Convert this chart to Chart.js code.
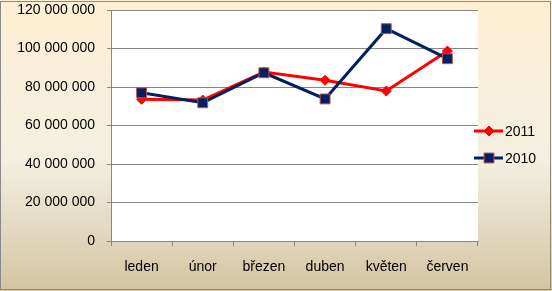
<!DOCTYPE html>
<html>
<head>
<meta charset="utf-8">
<script src="https://cdn.jsdelivr.net/npm/chart.js@4/dist/chart.umd.min.js"></script>
<style>
  html, body { margin: 0; padding: 0; background: #fff; }
  #wrap { width: 552px; height: 291px; }
</style>
</head>
<body>
<div id="wrap"><canvas id="graf" width="552" height="291"></canvas></div>
<script>
// data
const mesice = ['leden', 'únor', 'březen', 'duben', 'květen', 'červen'];
const rok2011 = [73600000, 73200000, 87800000, 83500000, 77900000, 98700000];
const rok2010 = [77000000, 71800000, 87400000, 73800000, 110300000, 94700000];
const osaMax = 120000000;
const osaKrok = 20000000;

const font = { family: 'Liberation Sans', size: 14 };
const sedaOsa = '#878787';

function formatCislo(v) {
  return String(v).replace(/\B(?=(\d{3})+(?!\d))/g, ' ');
}

// pozadi celeho grafu + bila plocha
const pozadi = {
  id: 'pozadi',
  beforeDraw(chart) {
    const ctx = chart.ctx;
    const a = chart.chartArea;
    ctx.save();
    let g = ctx.createLinearGradient(0, 0, 0, chart.height);
    g.addColorStop(0, '#FEEFD3');
    g.addColorStop(0.55, '#F3EFE1');
    g.addColorStop(1, '#D3C5A1');
    ctx.fillStyle = g;
    ctx.fillRect(0, 0, chart.width, chart.height);
    ctx.fillStyle = '#ffffff';
    ctx.fillRect(a.left, a.top, a.right - a.left, a.bottom - a.top);
    ctx.restore();
  },
  afterDraw(chart) {
    const ctx = chart.ctx;
    ctx.save();
    ctx.strokeStyle = '#8a8a8a';
    ctx.lineWidth = 1;
    ctx.strokeRect(0.5, 1.5, 550, 288);
    ctx.restore();
  }
};

// legenda vpravo (cara + znacka + text)
const legenda = {
  id: 'legenda',
  afterDraw(chart) {
    const ctx = chart.ctx;
    const poradi = [0, 1];
    const ys = [131, 158];
    ctx.save();
    poradi.forEach(function (i, k) {
      const ds = chart.data.datasets[i];
      const y = ys[k];
      ctx.strokeStyle = ds.borderColor;
      ctx.lineWidth = 3;
      ctx.beginPath();
      ctx.moveTo(474, y);
      ctx.lineTo(503, y);
      ctx.stroke();
      ctx.fillStyle = ds.pointBackgroundColor;
      ctx.strokeStyle = ds.pointBorderColor;
      ctx.lineWidth = 1;
      Chart.helpers.drawPoint(ctx, {
        pointStyle: ds.pointStyle,
        radius: ds.pointRadius,
        rotation: 0,
        borderWidth: 1
      }, 489, y);
      ctx.fillStyle = '#000';
      ctx.font = '14px "Liberation Sans"';
      ctx.textBaseline = 'middle';
      ctx.textAlign = 'left';
      ctx.fillText(ds.label, 505, y + 1);
    });
    ctx.restore();
  }
};

const ctx = document.getElementById('graf').getContext('2d');
new Chart(ctx, {
  type: 'line',
  data: {
    labels: mesice,
    datasets: [{
      label: '2011',
      data: rok2011,
      borderColor: '#FF0000',
      borderWidth: 3,
      pointStyle: 'rectRot',
      pointRadius: 5,
      pointBackgroundColor: '#FF0000',
      pointBorderColor: '#FF0000',
      pointBorderWidth: 1,
      tension: 0,
      order: 1
    }, {
      label: '2010',
      data: rok2010,
      borderColor: '#002060',
      borderWidth: 3,
      pointStyle: 'rect',
      pointRadius: 7,
      pointBackgroundColor: '#002060',
      pointBorderColor: '#C0504D',
      pointBorderWidth: 1,
      tension: 0,
      order: 0
    }]
  },
  options: {
    responsive: false,
    animation: false,
    events: [],
    layout: { padding: { left: 17, right: 74, top: 10, bottom: 0 } },
    plugins: {
      legend: { display: false },
      tooltip: { enabled: false },
      title: { display: false }
    },
    scales: {
      x: {
        offset: true,
        grid: {
          display: true,
          drawOnChartArea: false,
          drawTicks: true,
          tickLength: 5,
          color: sedaOsa,
          offset: true
        },
        border: { display: true, color: sedaOsa, width: 1 },
        ticks: { color: '#000', font: font, padding: 13, maxRotation: 0 },
        afterFit(s) { s.height = 50; }
      },
      y: {
        min: 0,
        max: osaMax,
        grid: {
          color: sedaOsa,
          lineWidth: 1,
          drawTicks: true,
          tickLength: 4
        },
        border: { display: true, color: sedaOsa, width: 1 },
        ticks: {
          stepSize: osaKrok,
          color: '#000',
          font: font,
          padding: 12,
          callback: function (v) { return formatCislo(v); }
        },
        afterFit(s) {
          s.width = 94;
          s.paddingTop = 0;
          s.paddingBottom = 0;
        }
      }
    }
  },
  plugins: [pozadi, legenda]
});
</script>
</body>
</html>
